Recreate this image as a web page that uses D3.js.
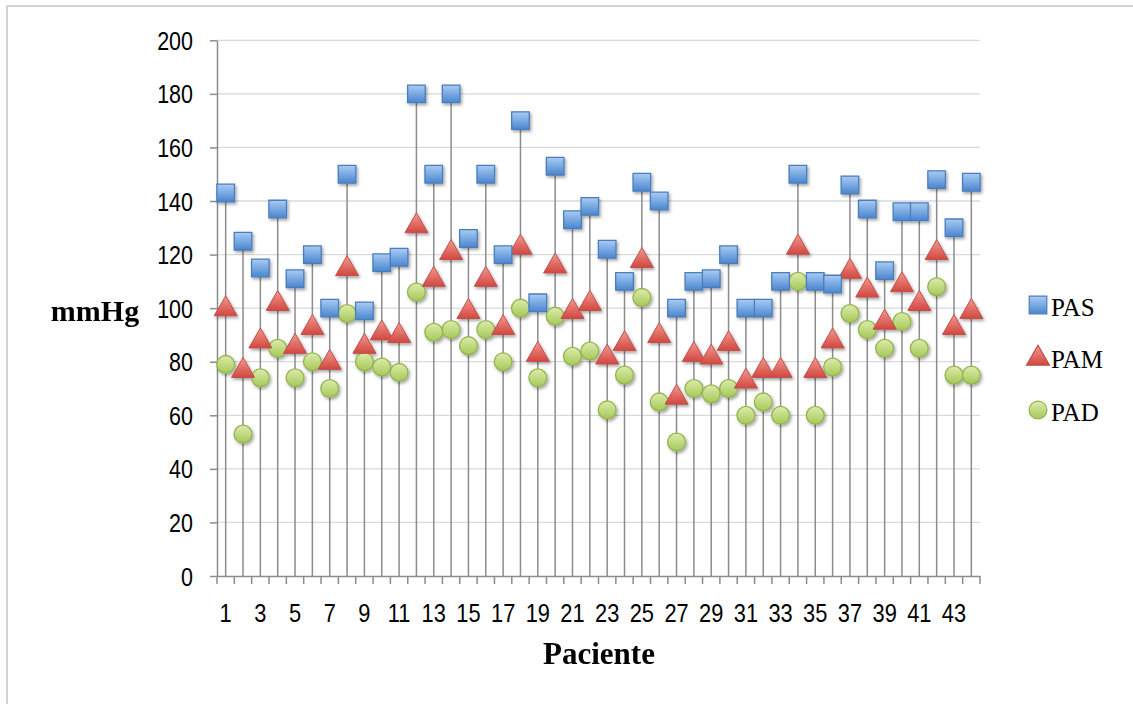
<!DOCTYPE html>
<html>
<head>
<meta charset="utf-8">
<script src="https://cdn.jsdelivr.net/npm/d3@7"></script>
<style>
  body { margin: 0; background: #fff; }
  svg { display: block; }
</style>
</head>
<body>
<svg width="1133" height="704"></svg>
<script>
// values
const patients = d3.range(1, 45);
const pas = [143, 125, 115, 137, 111, 120, 100, 150, 99, 117, 119, 180, 150, 180, 126, 150, 120, 170, 102, 153, 133, 138,
             122, 110, 147, 140, 100, 110, 111, 120, 100, 100, 110, 150, 110, 109, 146, 137, 114, 136, 136, 148, 130, 147];
const pam = [100, 77, 88, 102, 86, 93, 80, 115, 86, 91, 90, 131, 111, 121, 99, 111, 93, 123, 83, 116, 99, 102,
             82, 87, 118, 90, 67, 83, 82, 87, 73, 77, 77, 123, 77, 88, 114, 107, 95, 109, 102, 121, 93, 99];
const pad = [79, 53, 74, 85, 74, 80, 70, 98, 80, 78, 76, 106, 91, 92, 86, 92, 80, 100, 74, 97, 82, 84,
             62, 75, 104, 65, 50, 70, 68, 70, 60, 65, 60, 110, 60, 78, 98, 92, 85, 95, 85, 108, 75, 75];
const yTicks = d3.range(0, 201, 20);
const xLabels = patients.filter(d => d % 2 === 1);
const seriesNames = ["PAS", "PAM", "PAD"];

const svg = d3.select("svg");

const x = d3.scaleBand().domain(patients).range([217, 980]).padding(0);
const y = d3.scaleLinear().domain([0, 200]).range([576, 40.3]);

// gradients + shadow
const defs = svg.append("defs");
const grad = (id, c1, c2) => {
    const g = defs.append("linearGradient").attr("id", id)
        .attr("x1", 0).attr("y1", 0).attr("x2", 0).attr("y2", 1);
    g.append("stop").attr("offset", "0%").attr("stop-color", c1);
    g.append("stop").attr("offset", "100%").attr("stop-color", c2);
};
grad("gBlue", "#a9cbf3", "#4a86d0");
grad("gRed", "#f29a91", "#d2473f");
grad("gGreen", "#dcecab", "#a6c859");
defs.append("filter").attr("id", "shadow")
    .attr("x", "-50%").attr("y", "-50%").attr("width", "200%").attr("height", "200%")
    .append("feDropShadow")
    .attr("dx", 1.5).attr("dy", 2).attr("stdDeviation", 1.5)
    .attr("flood-color", "#000").attr("flood-opacity", 0.35);

// outer frame
svg.append("rect")
    .attr("x", 7).attr("y", 6).attr("width", 1300).attr("height", 900)
    .attr("fill", "none").attr("stroke", "#d3d3d3").attr("stroke-width", 2);

// gridlines
svg.append("g")
    .selectAll("line")
    .data(yTicks.filter(d => d > 0))
    .join("line")
    .attr("x1", 217).attr("x2", 980)
    .attr("y1", d => y(d)).attr("y2", d => y(d))
    .attr("stroke", "#d9d9d9").attr("stroke-width", 1.3);

// y axis
const yAxis = svg.append("g")
    .attr("transform", "translate(217,0)")
    .call(d3.axisLeft(y).tickValues(yTicks).tickSize(7).tickSizeOuter(0));
yAxis.select(".domain").attr("stroke", "#8c8c8c").attr("stroke-width", 1.5);
yAxis.selectAll(".tick line").attr("stroke", "#8c8c8c").attr("stroke-width", 1.5);
yAxis.selectAll(".tick text")
    .attr("x", -24 / 0.86).attr("dy", "0.36em")
    .attr("transform", "scale(0.86,1)")
    .attr("font-family", "'Liberation Sans', Arial, sans-serif")
    .attr("font-size", 25).attr("fill", "#000");

// drop lines from highest point to axis
svg.append("g")
    .selectAll("line")
    .data(patients)
    .join("line")
    .attr("x1", d => x(d) + x.bandwidth() / 2)
    .attr("x2", d => x(d) + x.bandwidth() / 2)
    .attr("y1", (d, i) => y(Math.max(pas[i], pam[i], pad[i])))
    .attr("y2", y(0))
    .attr("stroke", "#8c8c8c").attr("stroke-width", 1.5);

// x axis
const xAxis = svg.append("g")
    .attr("transform", `translate(0,${y(0)})`)
    .call(d3.axisBottom(x).tickValues(xLabels).tickSize(0).tickSizeOuter(0));
xAxis.select(".domain").attr("stroke", "#8c8c8c").attr("stroke-width", 1.5);
xAxis.selectAll(".tick text")
    .attr("y", 46).attr("dy", 0)
    .attr("transform", "scale(0.84,1)")
    .attr("font-family", "'Liberation Sans', Arial, sans-serif")
    .attr("font-size", 26).attr("fill", "#000");
// boundary tick marks
svg.append("g")
    .selectAll("line")
    .data(patients.map(d => x(d)).concat([x.range()[1]]))
    .join("line")
    .attr("x1", d => d).attr("x2", d => d)
    .attr("y1", y(0)).attr("y2", y(0) + 8)
    .attr("stroke", "#8c8c8c").attr("stroke-width", 1.5);

// markers
const cx = d => x(d) + x.bandwidth() / 2;
const sq = d3.symbol().type(d3.symbolSquare).size(310);
const tri = d3.symbol().type(d3.symbolTriangle).size(230);
const circ = d3.symbol().type(d3.symbolCircle).size(250);

const marks = svg.append("g").attr("filter", "url(#shadow)");

marks.append("g").selectAll("path")
    .data(patients)
    .join("path")
    .attr("transform", (d, i) => `translate(${cx(d)},${y(pad[i])})`)
    .attr("d", circ)
    .attr("fill", "url(#gGreen)").attr("stroke", "#93b44f").attr("stroke-width", 1.3);

marks.append("g").selectAll("path")
    .data(patients)
    .join("path")
    .attr("transform", (d, i) => `translate(${cx(d)},${y(pam[i]) + 1})`)
    .attr("d", tri)
    .attr("fill", "url(#gRed)").attr("stroke", "#c0504d").attr("stroke-width", 1);

marks.append("g").selectAll("path")
    .data(patients)
    .join("path")
    .attr("transform", (d, i) => `translate(${cx(d)},${y(pas[i])})`)
    .attr("d", sq)
    .attr("fill", "url(#gBlue)").attr("stroke", "#4a7ebb").attr("stroke-width", 1.3);

// axis titles
svg.append("text")
    .attr("x", 599).attr("y", 664)
    .attr("text-anchor", "middle")
    .attr("font-family", "'Liberation Serif', 'Times New Roman', serif")
    .attr("font-weight", "bold").attr("font-size", 31)
    .text("Paciente");

svg.append("text")
    .attr("x", 95).attr("y", 321)
    .attr("text-anchor", "middle")
    .attr("font-family", "'Liberation Serif', 'Times New Roman', serif")
    .attr("font-weight", "bold").attr("font-size", 30)
    .text("mmHg");

// legend
const legendFill = ["url(#gBlue)", "url(#gRed)", "url(#gGreen)"];
const legendStroke = ["#4a7ebb", "#c0504d", "#93b44f"];
const legendSym = [sq, tri, circ];
const legend = svg.append("g")
    .selectAll("g")
    .data(seriesNames)
    .join("g")
    .attr("transform", (d, i) => `translate(1038,${305 + i * 52.5})`);
legend.append("path")
    .attr("d", (d, i) => legendSym[i]())
    .attr("transform", (d, i) => i === 1 ? "translate(0,1)" : null)
    .attr("fill", (d, i) => legendFill[i])
    .attr("stroke", (d, i) => legendStroke[i])
    .attr("stroke-width", 1.2);
legend.append("text")
    .attr("x", 13).attr("y", 10.5)
    .attr("font-family", "'Liberation Serif', 'Times New Roman', serif")
    .attr("font-size", 25)
    .text(d => d);
</script>
</body>
</html>
